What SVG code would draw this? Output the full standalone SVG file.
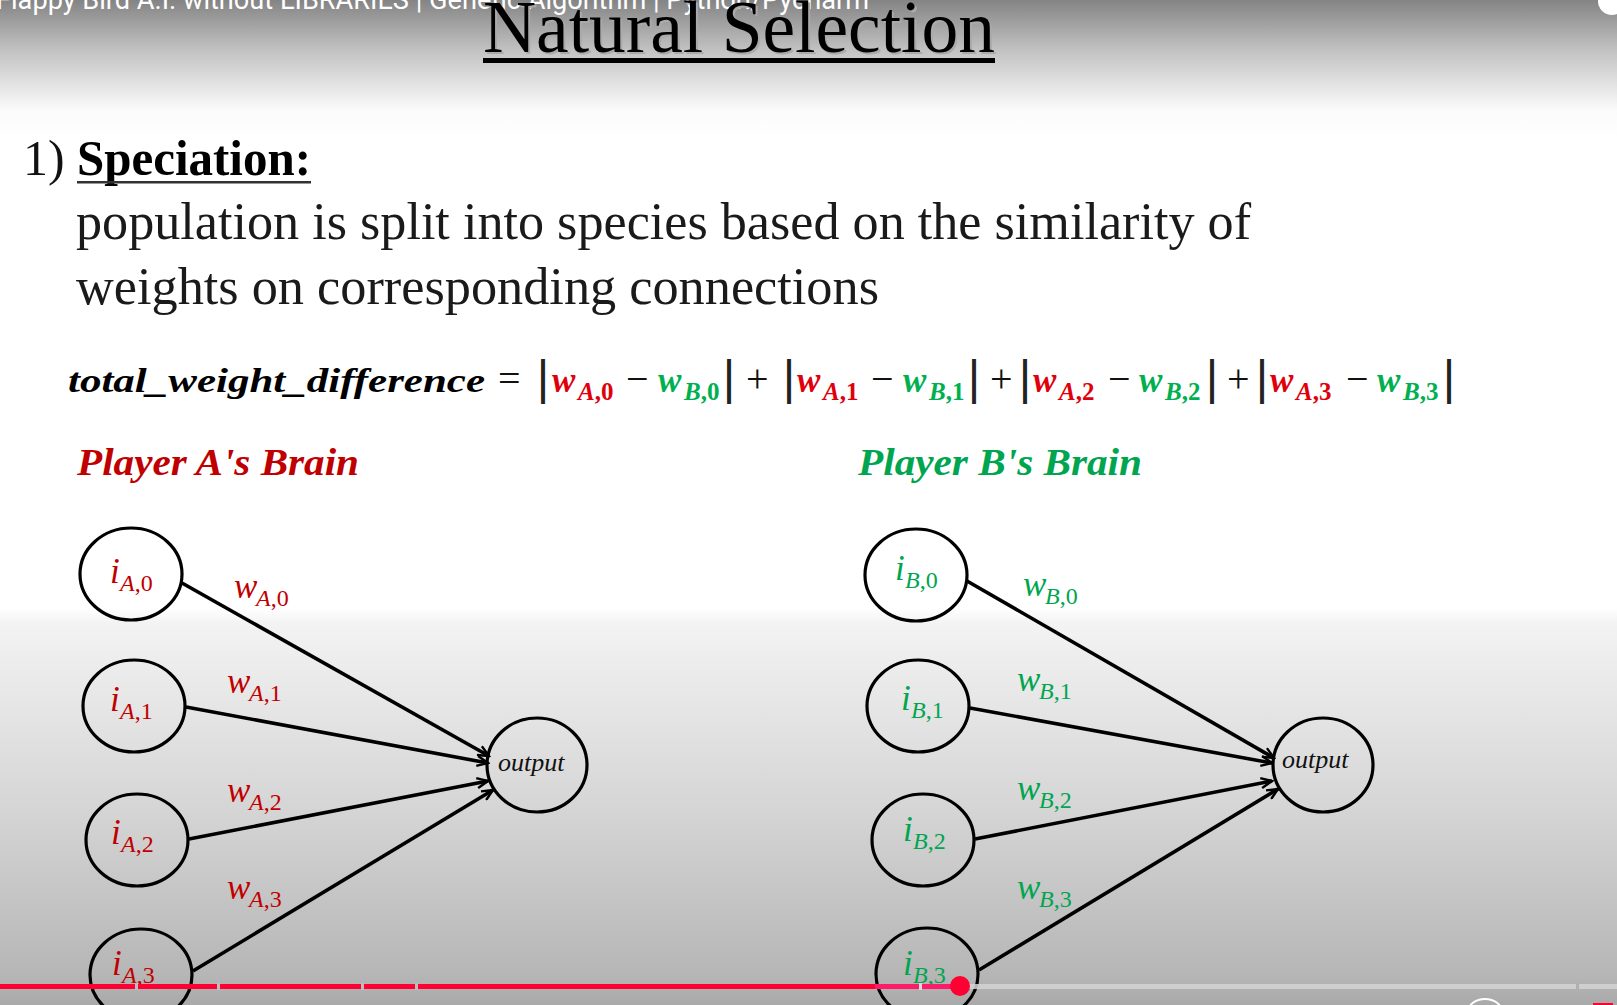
<svg xmlns="http://www.w3.org/2000/svg" width="1617" height="1005" viewBox="0 0 1617 1005">
<defs>
<linearGradient id="bg" x1="0" y1="0" x2="0" y2="1005" gradientUnits="userSpaceOnUse">
<stop offset="0" stop-color="#848484"/>
<stop offset="0.05" stop-color="#c2c2c2"/>
<stop offset="0.11" stop-color="#fbfbfb"/>
<stop offset="0.14" stop-color="#ffffff"/>
<stop offset="0.605" stop-color="#ffffff"/>
<stop offset="0.62" stop-color="#f3f3f3"/>
<stop offset="0.8" stop-color="#d6d6d6"/>
<stop offset="0.97" stop-color="#b6b6b6"/>
<stop offset="1" stop-color="#a9a9a9"/>
</linearGradient>
<marker id="arr" viewBox="0 0 14 12" refX="12" refY="6" markerWidth="14" markerHeight="12" markerUnits="userSpaceOnUse" orient="auto">
<path d="M1,1 L12,6 L1,11" fill="none" stroke="#000" stroke-width="2.4"/>
</marker>
<style>
.node{fill:none;stroke:#000;stroke-width:3.2}
.edge{fill:none;stroke:#000;stroke-width:3.6;marker-end:url(#arr)}
.serif{font-family:"Liberation Serif","DejaVu Serif",serif}
.body{font-family:"Liberation Serif","DejaVu Serif",serif;font-size:52px;fill:#1a1a1a}
.math{font-family:"Liberation Serif","DejaVu Serif",serif;font-style:italic;font-weight:bold}
.op{font-family:"Liberation Serif","DejaVu Serif",serif;font-size:40px;fill:#111}
.bar{font-family:"Liberation Sans","DejaVu Sans",sans-serif;font-size:48px;fill:#222;text-anchor:middle}
.up{font-style:normal}
.ered{fill:#e0000b}
.egreen{fill:#00b050}
.lred{fill:#c00000}
.lgreen{fill:#00a54f}
.lab{font-family:"Liberation Serif","DejaVu Serif",serif;font-style:italic}
.big{font-size:35px}
.sub{font-size:24px}
</style>
</defs>
<rect x="0" y="0" width="1617" height="1005" fill="url(#bg)"/>

<!-- video title overlay -->
<text x="-4" y="9" font-family="Roboto,'Liberation Sans',sans-serif" font-size="27" fill="#ffffff" textLength="873" lengthAdjust="spacingAndGlyphs">Flappy Bird A.I. without LIBRARIES | Genetic Algorithm | Python/Pycharm</text>
<circle cx="1612" cy="1" r="14" fill="#ffffff"/>

<!-- slide title -->
<g id="title">
<text x="485" y="54" class="serif" font-size="74" fill="#aaa" textLength="512" lengthAdjust="spacingAndGlyphs">Natural Selection</text>
<text x="483" y="52" class="serif" font-size="74" fill="#000" textLength="512" lengthAdjust="spacingAndGlyphs">Natural Selection</text>
<rect x="483" y="58" width="512" height="5" fill="#000"/>
</g>

<g id="speciation">
<text x="23" y="175" class="serif" font-size="50" fill="#111">1)</text>
<text x="77" y="175" class="serif" font-size="50" font-weight="bold" fill="#000" textLength="234" lengthAdjust="spacingAndGlyphs">Speciation:</text>
<rect x="77" y="181" width="234" height="2.5" fill="#333"/>
<text x="76" y="239" class="body" textLength="1175" lengthAdjust="spacingAndGlyphs">population is split into species based on the similarity of</text>
<text x="76" y="304" class="body" textLength="803" lengthAdjust="spacingAndGlyphs">weights on corresponding connections</text>
</g>

<g id="formula">
<text x="68" y="392" class="math" font-size="34" fill="#000" textLength="417" lengthAdjust="spacingAndGlyphs">total_weight_difference</text>
<text x="498" y="392" class="op">=</text>
<text x="543" y="394" class="bar">|</text>
<text x="552" y="392" class="math ered" font-size="35">w</text><text x="578" y="400" class="math ered" font-size="25">A<tspan class="up">,0</tspan></text>
<text x="626" y="392" class="op">−</text>
<text x="658" y="392" class="math egreen" font-size="35">w</text><text x="684" y="400" class="math egreen" font-size="25">B<tspan class="up">,0</tspan></text>
<text x="729" y="394" class="bar">|</text>
<text x="746" y="392" class="op">+</text>
<text x="789" y="394" class="bar">|</text>
<text x="797" y="392" class="math ered" font-size="35">w</text><text x="823" y="400" class="math ered" font-size="25">A<tspan class="up">,1</tspan></text>
<text x="871" y="392" class="op">−</text>
<text x="903" y="392" class="math egreen" font-size="35">w</text><text x="929" y="400" class="math egreen" font-size="25">B<tspan class="up">,1</tspan></text>
<text x="974" y="394" class="bar">|</text>
<text x="990" y="392" class="op">+</text>
<text x="1025" y="394" class="bar">|</text>
<text x="1033" y="392" class="math ered" font-size="35">w</text><text x="1059" y="400" class="math ered" font-size="25">A<tspan class="up">,2</tspan></text>
<text x="1108" y="392" class="op">−</text>
<text x="1139" y="392" class="math egreen" font-size="35">w</text><text x="1165" y="400" class="math egreen" font-size="25">B<tspan class="up">,2</tspan></text>
<text x="1212" y="394" class="bar">|</text>
<text x="1227" y="392" class="op">+</text>
<text x="1262" y="394" class="bar">|</text>
<text x="1270" y="392" class="math ered" font-size="35">w</text><text x="1296" y="400" class="math ered" font-size="25">A<tspan class="up">,3</tspan></text>
<text x="1346" y="392" class="op">−</text>
<text x="1377" y="392" class="math egreen" font-size="35">w</text><text x="1403" y="400" class="math egreen" font-size="25">B<tspan class="up">,3</tspan></text>
<text x="1449" y="394" class="bar">|</text>
</g>

<g id="headings">
<text x="77" y="475" class="math lred" font-size="37" textLength="282" lengthAdjust="spacingAndGlyphs">Player A's Brain</text>
<text x="858" y="475" class="math lgreen" font-size="37" textLength="284" lengthAdjust="spacingAndGlyphs">Player B's Brain</text>
</g>

<!-- connectors -->
<g id="connectors">
<line class="edge" x1="182" y1="583" x2="489" y2="756"/>
<line class="edge" x1="186" y1="707" x2="488" y2="763"/>
<line class="edge" x1="189" y1="839" x2="488" y2="781"/>
<line class="edge" x1="193" y1="971" x2="493" y2="790"/>
<line class="edge" x1="967" y1="581" x2="1274" y2="758"/>
<line class="edge" x1="970" y1="708" x2="1272" y2="763"/>
<line class="edge" x1="975" y1="839" x2="1272" y2="781"/>
<line class="edge" x1="979" y1="970" x2="1278" y2="789"/>
</g>

<g id="weight-labels">
<text x="234" y="598" class="lab lred big">w</text><text x="256" y="606" class="lab lred sub">A<tspan class="up">,0</tspan></text>
<text x="227" y="693" class="lab lred big">w</text><text x="249" y="701" class="lab lred sub">A<tspan class="up">,1</tspan></text>
<text x="227" y="802" class="lab lred big">w</text><text x="249" y="810" class="lab lred sub">A<tspan class="up">,2</tspan></text>
<text x="227" y="899" class="lab lred big">w</text><text x="249" y="907" class="lab lred sub">A<tspan class="up">,3</tspan></text>
<text x="1023" y="596" class="lab lgreen big">w</text><text x="1045" y="604" class="lab lgreen sub">B<tspan class="up">,0</tspan></text>
<text x="1017" y="691" class="lab lgreen big">w</text><text x="1039" y="699" class="lab lgreen sub">B<tspan class="up">,1</tspan></text>
<text x="1017" y="800" class="lab lgreen big">w</text><text x="1039" y="808" class="lab lgreen sub">B<tspan class="up">,2</tspan></text>
<text x="1017" y="899" class="lab lgreen big">w</text><text x="1039" y="907" class="lab lgreen sub">B<tspan class="up">,3</tspan></text>
</g>

<g id="iA0"><ellipse class="node" cx="131" cy="574" rx="51" ry="46"/><text x="110" y="583" class="lab lred big">i</text><text x="120" y="591" class="lab lred sub">A<tspan class="up">,0</tspan></text></g>
<g id="iA1"><ellipse class="node" cx="134" cy="706" rx="51" ry="46"/><text x="110" y="711" class="lab lred big">i</text><text x="120" y="719" class="lab lred sub">A<tspan class="up">,1</tspan></text></g>
<g id="iA2"><ellipse class="node" cx="137" cy="840" rx="51" ry="46"/><text x="111" y="844" class="lab lred big">i</text><text x="121" y="852" class="lab lred sub">A<tspan class="up">,2</tspan></text></g>
<g id="iA3"><ellipse class="node" cx="141" cy="975" rx="51" ry="46"/><text x="112" y="975" class="lab lred big">i</text><text x="122" y="983" class="lab lred sub">A<tspan class="up">,3</tspan></text></g>
<g id="outA"><ellipse class="node" cx="537" cy="765" rx="50" ry="47"/><text x="498" y="771" class="lab" font-size="26" fill="#111">output</text></g>

<g id="iB0"><ellipse class="node" cx="916" cy="575" rx="51" ry="46"/><text x="895" y="580" class="lab lgreen big">i</text><text x="905" y="588" class="lab lgreen sub">B<tspan class="up">,0</tspan></text></g>
<g id="iB1"><ellipse class="node" cx="918" cy="706" rx="51" ry="46"/><text x="901" y="710" class="lab lgreen big">i</text><text x="911" y="718" class="lab lgreen sub">B<tspan class="up">,1</tspan></text></g>
<g id="iB2"><ellipse class="node" cx="923" cy="840" rx="51" ry="46"/><text x="903" y="841" class="lab lgreen big">i</text><text x="913" y="849" class="lab lgreen sub">B<tspan class="up">,2</tspan></text></g>
<g id="iB3"><ellipse class="node" cx="927" cy="974" rx="51" ry="46"/><text x="903" y="975" class="lab lgreen big">i</text><text x="913" y="983" class="lab lgreen sub">B<tspan class="up">,3</tspan></text></g>
<g id="outB"><ellipse class="node" cx="1323" cy="765" rx="50" ry="47"/><text x="1282" y="768" class="lab" font-size="26" fill="#111">output</text></g>

<!-- video progress bar -->
<g id="progress">
<rect x="0" y="984" width="1617" height="5" fill="#d4d4d4" opacity="0.85"/>
<rect x="1576" y="983" width="3" height="7" fill="#b0b0b0"/>
<rect x="0" y="984" width="875" height="5" fill="#ff0033"/>
<rect x="875" y="984" width="85" height="5" fill="#ff1a6a"/>
<rect x="135" y="983" width="3" height="7" fill="#bdbdbd"/>
<rect x="217" y="983" width="3" height="7" fill="#bdbdbd"/>
<rect x="361" y="983" width="3" height="7" fill="#bdbdbd"/>
<rect x="415" y="983" width="3" height="7" fill="#bdbdbd"/>
<rect x="919" y="983" width="3" height="7" fill="#d8d8d8"/>
<circle cx="960" cy="986" r="10" fill="#ff0033"/>
<ellipse cx="1485" cy="1012" rx="17" ry="13" fill="none" stroke="#fff" stroke-width="2"/>
<rect x="1593" y="1003" width="20" height="3" fill="#ff0033"/>
</g>
</svg>
